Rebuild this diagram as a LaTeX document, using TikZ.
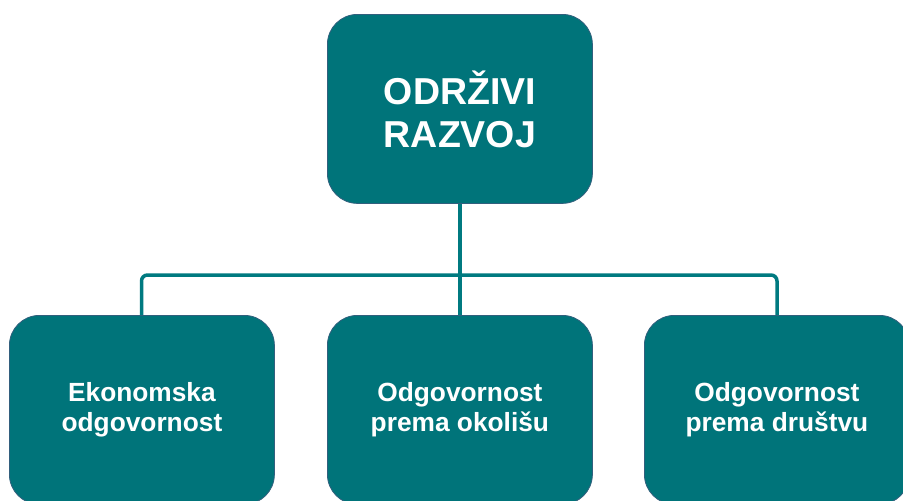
\documentclass[tikz,border=0pt]{standalone}
\usepackage{fontspec}
\setmainfont{Liberation Sans}
\definecolor{tealbox}{RGB}{0,116,122}
\definecolor{tealedge}{RGB}{50,95,125}
\definecolor{tealline}{RGB}{0,122,128}
\begin{document}
\begin{tikzpicture}[x=1pt,y=-1pt,
  box/.style={draw=tealedge,line width=0.8pt,fill=tealbox,rounded corners=30pt,
    minimum width=265pt,minimum height=189pt,text=white,align=center,
    font=\bfseries,inner sep=0pt,anchor=north west},
  conn/.style={draw=tealline,line width=3.5pt,rounded corners=6pt}]
\useasboundingbox (0,0) rectangle (903,501);
\clip (0,0) rectangle (903,501);
\node[box,font=\fontsize{37.5}{43}\bfseries\selectfont] (top) at (327,14) {ODRŽIVI\\RAZVOJ};
\node[box,font=\fontsize{26.3}{30.5}\bfseries\selectfont] (left) at (9,315) {Ekonomska\\odgovornost};
\node[box,font=\fontsize{26.3}{30.5}\bfseries\selectfont] (mid) at (327,315) {Odgovornost\\prema okolišu};
\node[box,font=\fontsize{26.3}{30.5}\bfseries\selectfont] (right) at (644,315) {Odgovornost\\prema društvu};
\coordinate (bus) at (459,275);
\draw[conn] (top.south) -- (mid.north);
\draw[conn] (left.north -| 141.5,0) |- (bus) -| (right.north -| 777,0);
\end{tikzpicture}
\end{document}
